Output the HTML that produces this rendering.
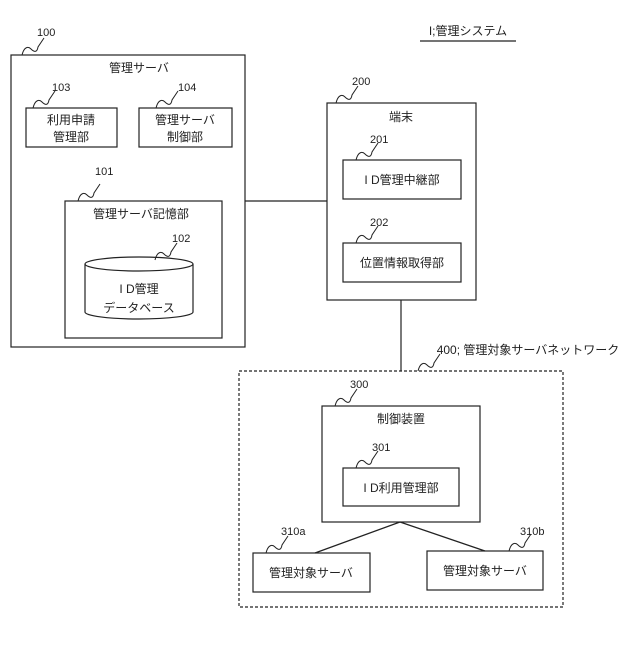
<!DOCTYPE html>
<html><head><meta charset="utf-8"><style>
html,body{margin:0;padding:0;background:#fff}
svg text{font-family:"Liberation Sans","Noto Sans CJK JP",sans-serif;fill:#222}
</style></head><body>
<svg width="640" height="640" viewBox="0 0 640 640" xmlns="http://www.w3.org/2000/svg">
<defs>
<path id="sq" d="M0 0 C2 -8 6 -9 9 -6 S15 -2 16 -8 L22 -17" fill="none" stroke="#222" stroke-width="1"/>
</defs>
<g fill="none" stroke="#222" stroke-width="1.2">
<rect x="11" y="55" width="234" height="292"/>
<rect x="26" y="108" width="91" height="39"/>
<rect x="139" y="108" width="93" height="39"/>
<rect x="65" y="201" width="157" height="137"/>
<path d="M85 264 L85 312 A54 7 0 0 0 193 312 L193 264"/>
<ellipse cx="139" cy="264" rx="54" ry="7"/>
<rect x="327" y="103" width="149" height="197"/>
<rect x="343" y="160" width="118" height="39"/>
<rect x="343" y="243" width="118" height="39"/>
<line x1="245" y1="201" x2="327" y2="201"/>
<line x1="401" y1="300" x2="401" y2="371"/>
<rect x="239" y="371" width="324" height="236" stroke-dasharray="3,2"/>
<rect x="322" y="406" width="158" height="116"/>
<rect x="343" y="468" width="116" height="38"/>
<rect x="253" y="553" width="117" height="39"/>
<rect x="427" y="551" width="116" height="39"/>
<line x1="400" y1="522" x2="315" y2="553"/>
<line x1="400" y1="522" x2="485" y2="551"/>
<line x1="420" y1="41" x2="516" y2="41"/>
</g>
<use href="#sq" x="22" y="55"/>
<use href="#sq" x="33" y="108"/>
<use href="#sq" x="156" y="108"/>
<use href="#sq" x="78" y="201"/>
<use href="#sq" x="155" y="260"/>
<use href="#sq" x="336" y="103"/>
<use href="#sq" x="356" y="160"/>
<use href="#sq" x="356" y="243"/>
<use href="#sq" x="418" y="371"/>
<use href="#sq" x="335" y="406"/>
<use href="#sq" x="356" y="468"/>
<use href="#sq" x="266" y="553"/>
<use href="#sq" x="509" y="551"/>
<g font-size="11">
<text x="37" y="36">100</text>
<text x="52" y="91">103</text>
<text x="178" y="91">104</text>
<text x="95" y="175">101</text>
<text x="172" y="242">102</text>
<text x="352" y="85">200</text>
<text x="370" y="143">201</text>
<text x="370" y="226">202</text>
<text x="350" y="388">300</text>
<text x="372" y="451">301</text>
<text x="281" y="535">310a</text>
<text x="520" y="535">310b</text>
</g>
<g font-size="12" text-anchor="middle">
<text x="468" y="35">I;管理システム</text>
<text x="139" y="72">管理サーバ</text>
<text x="71" y="124">利用申請</text>
<text x="71" y="141">管理部</text>
<text x="185" y="124">管理サーバ</text>
<text x="185" y="141">制御部</text>
<text x="141" y="218">管理サーバ記憶部</text>
<text x="139" y="293">I D管理</text>
<text x="139" y="312">データベース</text>
<text x="401" y="121">端末</text>
<text x="402" y="184">I D管理中継部</text>
<text x="402" y="267">位置情報取得部</text>
<text x="401" y="423">制御装置</text>
<text x="401" y="492">I D利用管理部</text>
<text x="311" y="577">管理対象サーバ</text>
<text x="485" y="575">管理対象サーバ</text>
<text x="528" y="354">400; 管理対象サーバネットワーク</text>
</g>
</svg>
</body></html>
